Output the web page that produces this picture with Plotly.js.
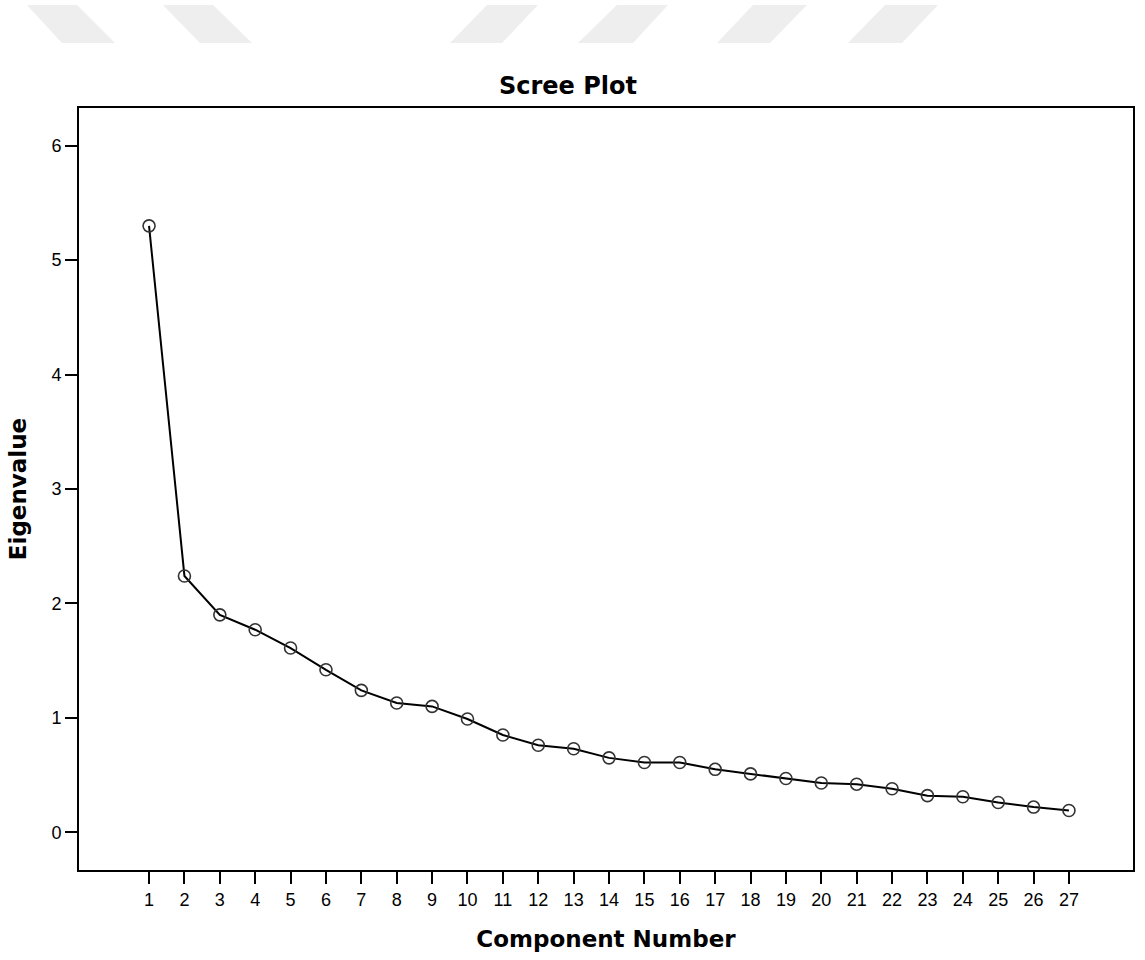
<!DOCTYPE html>
<html>
<head>
<meta charset="utf-8">
<script src="https://cdn.plot.ly/plotly-3.0.1.min.js"></script>
<style>html,body{margin:0;padding:0;background:#fff;}#chart{width:1145px;height:960px;}</style>
</head>
<body>
<div id="chart"></div>
<script>
var components = [1,2,3,4,5,6,7,8,9,10,11,12,13,14,15,16,17,18,19,20,21,22,23,24,25,26,27];
var eigenvalues = [5.30,2.24,1.90,1.77,1.61,1.42,1.24,1.13,1.10,0.99,0.85,0.76,0.73,0.65,0.61,0.61,0.55,0.51,0.47,0.43,0.42,0.38,0.32,0.31,0.26,0.22,0.19];
var xTickLabels = components.map(String);
var yTickValues = [0,1,2,3,4,5,6];

var W = 1145, H = 960, L = 79, R = 12, T = 108, B = 90;
var pw = W - L - R, ph = H - T - B;
function px2paper(x, y){ return [(x - L)/pw, (H - B - y)/ph]; }
// decorative watermark parallelograms at the top of the page (pixel outlines)
var marks = [
  [[27,5],[77,5],[115,43],[62,43]],
  [[163,5],[213,5],[252,43],[200,43]],
  [[487,5],[538,5],[502,43],[450,43]],
  [[617,5],[668,5],[633,43],[578,43]],
  [[753,5],[807,5],[770,43],[717,43]],
  [[885,5],[938,5],[902,43],[848,43]]
];
var shapes = marks.map(function(m){
  var d = m.map(function(p,i){ var q = px2paper(p[0],p[1]); return (i===0?'M':'L') + q[0].toFixed(5) + ',' + q[1].toFixed(5); }).join(' ') + ' Z';
  return {type:'path', xref:'paper', yref:'paper', path:d, fillcolor:'#eeeeee', line:{width:0}, layer:'below'};
});

var trace = {
  x: components, y: eigenvalues, type: 'scatter', mode: 'lines+markers',
  line: {color: '#000000', width: 2},
  marker: {symbol: 'circle-open', size: 12, color: '#333333', line: {color: '#333333', width: 1.6}},
  hoverinfo: 'x+y'
};

var layout = {
  width: W, height: H,
  margin: {l: L, r: R, t: T, b: B},
  paper_bgcolor: '#ffffff', plot_bgcolor: '#ffffff',
  showlegend: false,
  title: {text: '<b>Scree Plot</b>', x: 0.496, xref: 'container', xanchor: 'center', y: 1 - 86/H, yref: 'container', yanchor: 'middle',
          font: {family: 'DejaVu Sans', size: 24, color: '#000'}},
  xaxis: {
    range: [-0.98, 28.81], tickmode: 'array', tickvals: components, ticktext: xTickLabels,
    ticks: 'outside', ticklen: 12, tickwidth: 2, tickcolor: '#000',
    showline: true, mirror: true, linecolor: '#000', linewidth: 2,
    showgrid: false, zeroline: false,
    tickfont: {family: 'Liberation Sans, Arial', size: 18, color: '#000'},
    title: {text: '<b>Component Number</b>', standoff: 22, font: {family: 'DejaVu Sans', size: 23, color: '#000'}}
  },
  yaxis: {
    range: [-0.33, 6.33], tickmode: 'array', tickvals: yTickValues,
    ticks: 'outside', ticklen: 12, tickwidth: 2, tickcolor: '#000',
    showline: true, mirror: true, linecolor: '#000', linewidth: 2,
    showgrid: false, zeroline: false,
    tickfont: {family: 'Liberation Sans, Arial', size: 18, color: '#000'},
    title: {text: '<b>Eigenvalue</b>', standoff: 18, font: {family: 'DejaVu Sans', size: 23, color: '#000'}}
  },
  shapes: shapes
};

Plotly.newPlot('chart', [trace], layout, {displayModeBar: false, staticPlot: true});
</script>
</body>
</html>
